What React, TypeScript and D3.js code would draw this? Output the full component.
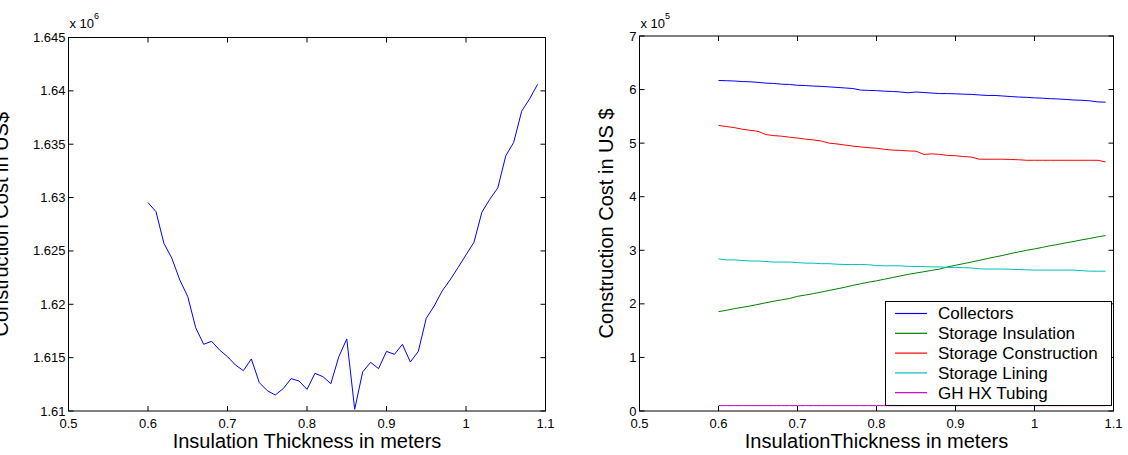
import React from 'react';
import * as d3 from 'd3';

// Insulation thickness (m)
const thickness = [
  0.6, 0.61, 0.62, 0.63, 0.64, 0.65, 0.66, 0.67, 0.68, 0.69,
  0.7, 0.71, 0.72, 0.73, 0.74, 0.75, 0.76, 0.77, 0.78, 0.79,
  0.8, 0.81, 0.82, 0.83, 0.84, 0.85, 0.86, 0.87, 0.88, 0.89,
  0.9, 0.91, 0.92, 0.93, 0.94, 0.95, 0.96, 0.97, 0.98, 0.99,
  1.0, 1.01, 1.02, 1.03, 1.04, 1.05, 1.06, 1.07, 1.08, 1.09,
];

// Total construction cost (x 10^6 US$)
const totalCost = [
  1.62953, 1.62869, 1.62572, 1.62431, 1.62228, 1.62072, 1.61781, 1.61625, 1.61653, 1.61572,
  1.61509, 1.61431, 1.61378, 1.61488, 1.61266, 1.61191, 1.6115, 1.61209, 1.61303, 1.61281,
  1.61203, 1.61353, 1.61322, 1.61256, 1.61509, 1.61675, 1.61016, 1.61366, 1.61456, 1.61397,
  1.61559, 1.61531, 1.61625, 1.61459, 1.61559, 1.61869, 1.61984, 1.62125, 1.62228, 1.62344,
  1.62463, 1.62581, 1.62863, 1.62985, 1.63091, 1.63391, 1.63517, 1.63809, 1.63925, 1.64061,
];

// Component costs (x 10^5 US$)
const collectors = [
  6.17, 6.165, 6.16, 6.15, 6.145, 6.135, 6.12, 6.115, 6.1, 6.095,
  6.08, 6.075, 6.065, 6.06, 6.05, 6.04, 6.03, 6.02, 5.99, 5.985,
  5.98, 5.97, 5.965, 5.955, 5.94, 5.955, 5.945, 5.935, 5.925, 5.925,
  5.92, 5.915, 5.91, 5.9, 5.89, 5.89, 5.88, 5.87, 5.86, 5.855,
  5.845, 5.84, 5.83, 5.825, 5.815, 5.805, 5.8, 5.79, 5.77, 5.765,
];
const storageInsulation = [
  1.855, 1.88, 1.91, 1.935, 1.96, 1.99, 2.02, 2.05, 2.075, 2.1,
  2.14, 2.165, 2.19, 2.22, 2.25, 2.28, 2.31, 2.345, 2.375, 2.405,
  2.43, 2.46, 2.49, 2.52, 2.55, 2.575, 2.6, 2.625, 2.65, 2.69,
  2.72, 2.75, 2.78, 2.81, 2.845, 2.875, 2.905, 2.94, 2.97, 3.0,
  3.025, 3.055, 3.085, 3.11, 3.14, 3.165, 3.195, 3.22, 3.25, 3.275,
];
const storageConstruction = [
  5.33, 5.31, 5.29, 5.26, 5.24, 5.22, 5.16, 5.14, 5.13, 5.11,
  5.095, 5.075, 5.06, 5.04, 5.0, 4.985, 4.965, 4.945, 4.93, 4.915,
  4.905, 4.885, 4.87, 4.865, 4.855, 4.85, 4.79, 4.8, 4.79, 4.77,
  4.765, 4.75, 4.74, 4.7, 4.7, 4.7, 4.7, 4.695, 4.69, 4.68,
  4.68, 4.68, 4.68, 4.68, 4.68, 4.68, 4.68, 4.68, 4.68, 4.65,
];
const storageLining = [
  2.84, 2.82, 2.82, 2.81, 2.8, 2.8, 2.79, 2.78, 2.78, 2.78,
  2.77, 2.76, 2.76, 2.75, 2.75, 2.74, 2.735, 2.735, 2.735, 2.73,
  2.715, 2.71, 2.71, 2.71, 2.7, 2.7, 2.695, 2.69, 2.69, 2.68,
  2.68, 2.675, 2.67, 2.655, 2.65, 2.65, 2.65, 2.645, 2.64, 2.635,
  2.63, 2.63, 2.63, 2.63, 2.63, 2.63, 2.62, 2.61, 2.61, 2.61,
];
const ghHxTubing = [
  0.1, 0.1, 0.1, 0.1, 0.1, 0.1, 0.1, 0.1, 0.1, 0.1,
  0.1, 0.1, 0.1, 0.1, 0.1, 0.1, 0.1, 0.1, 0.1, 0.1,
  0.1, 0.1, 0.1, 0.1, 0.1, 0.1, 0.1, 0.1, 0.1, 0.1,
  0.1, 0.1, 0.1, 0.1, 0.1, 0.1, 0.1, 0.1, 0.1, 0.1,
  0.1, 0.1, 0.1, 0.1, 0.1, 0.1, 0.1, 0.1, 0.1, 0.1,
];

const seriesNames = ['Collectors', 'Storage Insulation', 'Storage Construction', 'Storage Lining', 'GH HX Tubing'];
const seriesColors = ['#0000ff', '#008000', '#ff0000', '#00bfbf', '#bf00bf'];
const seriesValues = [collectors, storageInsulation, storageConstruction, storageLining, ghHxTubing];

const xTicks = [0.5, 0.6, 0.7, 0.8, 0.9, 1.0, 1.1];
const leftYTicks = [1.61, 1.615, 1.62, 1.625, 1.63, 1.635, 1.64, 1.645];
const rightYTicks = [0, 1, 2, 3, 4, 5, 6, 7];

const FONT = 'Liberation Sans, Arial, Helvetica, sans-serif';
const TICK = 5;

type Box = { x0: number; x1: number; y0: number; y1: number };

function Axes({ box, x, y, yTicks, fmtY, exp }: {
  box: Box; x: d3.ScaleLinear<number, number>; y: d3.ScaleLinear<number, number>;
  yTicks: number[]; fmtY: (v: number) => string; exp: string;
}) {
  return (
    <g>
      {xTicks.map((t) => (
        <g key={'x' + t}>
          <line x1={x(t)} x2={x(t)} y1={box.y1} y2={box.y1 - TICK} stroke="#000" />
          <line x1={x(t)} x2={x(t)} y1={box.y0} y2={box.y0 + TICK} stroke="#000" />
          <text x={x(t)} y={box.y1 + 16.5} fontSize={13} textAnchor="middle" fontFamily={FONT}>{String(t)}</text>
        </g>
      ))}
      {yTicks.map((t) => (
        <g key={'y' + t}>
          <line x1={box.x0} x2={box.x0 + TICK} y1={y(t)} y2={y(t)} stroke="#000" />
          <line x1={box.x1} x2={box.x1 - TICK} y1={y(t)} y2={y(t)} stroke="#000" />
          <text x={box.x0 - 3} y={y(t)} dy="0.35em" fontSize={13} textAnchor="end" fontFamily={FONT}>{fmtY(t)}</text>
        </g>
      ))}
      <rect x={box.x0} y={box.y0} width={box.x1 - box.x0} height={box.y1 - box.y0} fill="none" stroke="#000" strokeWidth={1} />
      <text x={box.x0 + 1} y={28} fontSize={13} fontFamily={FONT}>
        x 10<tspan fontSize={9} dy={-9}>{exp}</tspan>
      </text>
    </g>
  );
}

export default function App() {
  const lb: Box = { x0: 68.5, x1: 545.5, y0: 37.5, y1: 411 };
  const rb: Box = { x0: 639.5, x1: 1113.5, y0: 36, y1: 411 };

  const lx = d3.scaleLinear().domain([0.5, 1.1]).range([lb.x0, lb.x1]);
  const ly = d3.scaleLinear().domain([1.61, 1.645]).range([lb.y1, lb.y0]);
  const rx = d3.scaleLinear().domain([0.5, 1.1]).range([rb.x0, rb.x1]);
  const ry = d3.scaleLinear().domain([0, 7]).range([rb.y1, rb.y0]);

  const leftLine = d3.line<number>().x((_, i) => lx(thickness[i])).y((d) => ly(d));
  const rightLine = d3.line<number>().x((_, i) => rx(thickness[i])).y((d) => ry(d));

  const fmtLeft = (v: number) => String(+v.toFixed(3));

  const leg = { x0: 885.5, x1: 1111.5, y0: 301.5, y1: 405.5 };
  const rowY = (i: number) => 313.5 + i * 19.8;

  return (
    <svg width={1128} height={455} style={{ position: 'absolute', left: 0, top: 0, background: '#fff' }}>
      <rect x={0} y={0} width={1128} height={455} fill="#fff" />
      {/* Left chart */}
      <path d={leftLine(totalCost) || ''} fill="none" stroke="#0000ff" strokeWidth={1} />
      <Axes box={lb} x={lx} y={ly} yTicks={leftYTicks} fmtY={fmtLeft} exp="6" />
      <text x={(lb.x0 + lb.x1) / 2} y={448} fontSize={20} textAnchor="middle" fontFamily={FONT}>Insulation Thickness in meters</text>
      <text transform={`translate(8,${(lb.y0 + lb.y1) / 2}) rotate(-90)`} fontSize={20} textAnchor="middle" fontFamily={FONT}>Construction Cost in US$</text>

      {/* Right chart */}
      {seriesValues.map((vals, i) => (
        <path key={seriesNames[i]} d={rightLine(vals) || ''} fill="none" stroke={seriesColors[i]} strokeWidth={1} />
      ))}
      <Axes box={rb} x={rx} y={ry} yTicks={rightYTicks} fmtY={(v) => String(v)} exp="5" />
      <text x={(rb.x0 + rb.x1) / 2} y={448} fontSize={20} textAnchor="middle" fontFamily={FONT}>InsulationThickness in meters</text>
      <text transform={`translate(613,${(rb.y0 + rb.y1) / 2}) rotate(-90)`} fontSize={20} textAnchor="middle" fontFamily={FONT}>Construction Cost in US $</text>

      {/* Legend */}
      <rect x={leg.x0} y={leg.y0} width={leg.x1 - leg.x0} height={leg.y1 - leg.y0} fill="#fff" stroke="#000" strokeWidth={1} />
      {seriesNames.map((name, i) => (
        <g key={'leg' + name}>
          <line x1={895} x2={927} y1={rowY(i)} y2={rowY(i)} stroke={seriesColors[i]} strokeWidth={1.2} />
          <text x={938} y={rowY(i)} dy="0.35em" fontSize={17} fontFamily={FONT}>{name}</text>
        </g>
      ))}
    </svg>
  );
}
